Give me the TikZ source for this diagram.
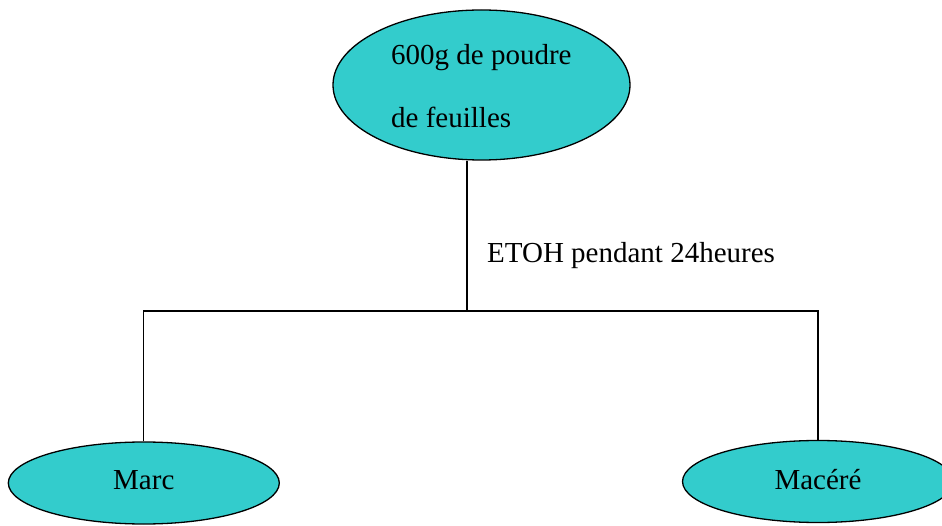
\documentclass[tikz,border=0pt]{standalone}
\usepackage{fontspec}
\setmainfont{Liberation Serif}
\usetikzlibrary{shapes.geometric}
\definecolor{teal1}{HTML}{33CCCC}
\tikzset{
  blob/.style={ellipse, draw=black, fill=teal1, line width=1.3pt, inner sep=0pt},
  lbl/.style={inner sep=0pt, font=\fontsize{29}{35}\selectfont},
  wire/.style={line width=1.3pt}
}
\begin{document}
\begin{tikzpicture}[x=1pt,y=1pt]
\useasboundingbox (0,0) rectangle (942,525);
\node[blob, minimum width=297pt, minimum height=150pt] (top) at (481.5,440) {};
\node[lbl, anchor=base west] (t1) at (391,460.5) {600g de poudre};
\node[lbl, anchor=base west] (t2) at (391,397.5) {de feuilles};
\node[blob, minimum width=271pt, minimum height=82pt, font=\fontsize{29}{35}\selectfont, text height=18pt, text depth=6pt] (marc) at (143.8,42) {Marc};
\node[blob, minimum width=271pt, minimum height=82pt, font=\fontsize{29}{35}\selectfont, text height=19pt, text depth=4pt] (macere) at (818,43.5) {Macéré};
\coordinate (j) at (467,214);
\draw[wire] (top.south -| j) -- (j);
\draw[wire] (marc.north) |- (j) -| (macere.north);
\node[lbl, anchor=base west] (etoh) at (487,262.3) {ETOH pendant 24heures};
\end{tikzpicture}
\end{document}
